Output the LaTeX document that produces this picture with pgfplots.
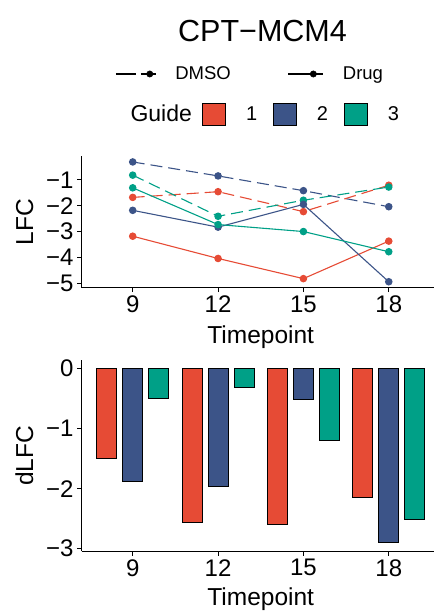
\documentclass[border=0pt]{standalone}
\usepackage{pgfplots}
\pgfplotsset{compat=1.18}
\usepackage{fontspec}
\setmainfont{Liberation Sans}
\definecolor{gred}{HTML}{E64B35}
\definecolor{gblue}{HTML}{3C5488}
\definecolor{ggreen}{HTML}{00A087}

\pgfplotsset{
  panel/.style={
    scale only axis, width=352.5pt,
    xmin=0.4, xmax=4.53,
    axis x line*=bottom, axis y line*=left,
    axis line style={-, line width=1.1pt, black},
    tick align=outside, major tick length=4.5pt,
    tick style={black, line width=1pt},
    xtick={1,2,3,4}, xticklabels={9,12,15,18},
    ticklabel style={font=\fontsize{24}{24}\selectfont, text=black},
    clip=false,
  },
  dmso/.style={line width=1.1pt, dash pattern=on 12pt off 6pt, mark=*, mark size=3.2pt, mark options={solid}},
  drug/.style={line width=1.1pt, mark=*, mark size=3.2pt},
  bars/.style={ybar, bar width=0.233, draw=black, line width=0.8pt},
}

\begin{document}
\begin{tikzpicture}
\useasboundingbox (0pt,0pt) rectangle (434pt,611pt);

% title
\node[font=\fontsize{30.5}{32}\selectfont, anchor=base] at (262.5pt,569pt) {CPT−MCM4};

% legend row 1
\begin{axis}[hide axis, scale only axis, width=434pt, height=611pt,
  at={(0pt,0pt)}, anchor=south west, xmin=0, xmax=1, ymin=0, ymax=1,
  legend columns=2,
  legend cell align=left,
  legend style={at={(0.26498,0.87889)}, anchor=west, draw=none, fill=none,
    inner sep=0pt, font=\fontsize{18.5}{20}\selectfont,
    nodes={inner sep=0pt},
    /tikz/every odd column/.append style={column sep=19pt},
    /tikz/every even column/.append style={column sep=57pt}}]
\addlegendimage{legend image code/.code={\draw[black, line width=1.1pt, dash pattern=on 20pt off 5pt] (0pt,0pt) -- (40pt,0pt); \fill[black] (34pt,0pt) circle (3.2pt);}}
\addlegendentry{DMSO}
\addlegendimage{legend image code/.code={\draw[black, line width=1.1pt] (0pt,0pt) -- (35pt,0pt); \fill[black] (25pt,0pt) circle (3.2pt);}}
\addlegendentry{Drug}
\end{axis}

% legend row 2
\node[font=\fontsize{23}{25}\selectfont, anchor=base west] at (127pt,489.3pt) {Guide};
\begin{axis}[hide axis, scale only axis, width=434pt, height=611pt,
  at={(0pt,0pt)}, anchor=south west, xmin=0, xmax=1, ymin=0, ymax=1,
  legend columns=3,
  legend cell align=left,
  legend style={at={(0.46544,0.81309)}, anchor=west, draw=none, fill=none,
    inner sep=0pt, font=\fontsize{20}{22}\selectfont,
    nodes={inner sep=0pt},
    /tikz/every odd column/.append style={column sep=20pt},
    /tikz/every even column/.append style={column sep=16pt}}]
\addlegendimage{legend image code/.code={\draw[fill=gred, draw=black, line width=0.8pt] (0pt,-11pt) rectangle (23pt,11pt);}}
\addlegendentry{1}
\addlegendimage{legend image code/.code={\draw[fill=gblue, draw=black, line width=0.8pt] (0pt,-11pt) rectangle (23pt,11pt);}}
\addlegendentry{2}
\addlegendimage{legend image code/.code={\draw[fill=ggreen, draw=black, line width=0.8pt] (0pt,-11pt) rectangle (23pt,11pt);}}
\addlegendentry{3}
\end{axis}

% top panel: LFC
\begin{axis}[panel, at={(81.5pt,323.3pt)}, anchor=south west, height=131.7pt,
  ymin=-5.17, ymax=-0.08, ytick={-5,-4,-3,-2,-1}, yticklabels={−5,−4,−3,−2,−1}]
\addplot[gblue, dmso] coordinates {(1,-0.31) (2,-0.85) (3,-1.42) (4,-2.04)};
\addplot[gred, dmso] coordinates {(1,-1.68) (2,-1.46) (3,-2.23) (4,-1.21)};
\addplot[ggreen, dmso] coordinates {(1,-0.82) (2,-2.41) (3,-1.79) (4,-1.28)};
\addplot[gred, drug] coordinates {(1,-3.18) (2,-4.04) (3,-4.82) (4,-3.37)};
\addplot[gblue, drug] coordinates {(1,-2.18) (2,-2.83) (3,-1.95) (4,-4.94)};
\addplot[ggreen, drug] coordinates {(1,-1.31) (2,-2.73) (3,-3.00) (4,-3.78)};
\end{axis}
\node[font=\fontsize{24.5}{26}\selectfont, anchor=base] at (260.7pt,267pt) {Timepoint};
\node[font=\fontsize{24.5}{26}\selectfont, anchor=base, rotate=90] at (33pt,389pt) {LFC};

% bottom panel: dLFC
\begin{axis}[panel, at={(81.5pt,59.7pt)}, anchor=south west, height=191.3pt,
  ymin=-3.045, ymax=0.145, ytick={-3,-2,-1,0}, yticklabels={−3,−2,−1,0}]
\addplot[bars, fill=gred, bar shift=-0.305] coordinates {(1,-1.49) (2,-2.57) (3,-2.59) (4,-2.15)};
\addplot[bars, fill=gblue, bar shift=0] coordinates {(1,-1.88) (2,-1.97) (3,-0.52) (4,-2.90)};
\addplot[bars, fill=ggreen, bar shift=0.305] coordinates {(1,-0.49) (2,-0.32) (3,-1.20) (4,-2.52)};
\end{axis}
\node[font=\fontsize{24.5}{26}\selectfont, anchor=base] at (260.7pt,5.5pt) {Timepoint};
\node[font=\fontsize{24.5}{26}\selectfont, anchor=base, rotate=90] at (33pt,155pt) {dLFC};
\end{tikzpicture}
\end{document}
